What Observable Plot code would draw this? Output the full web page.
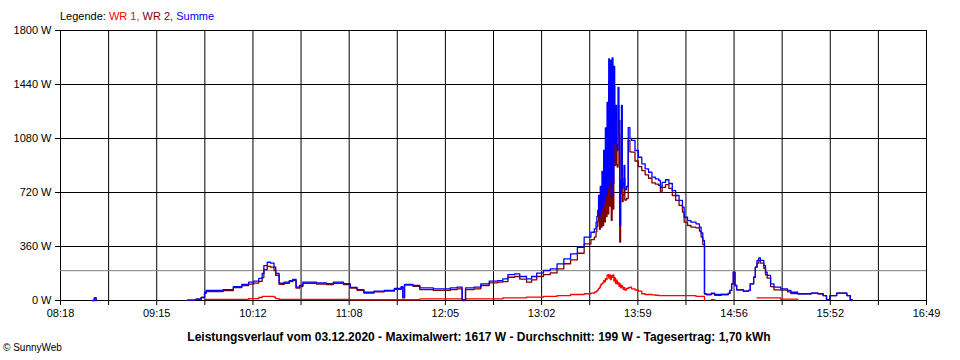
<!DOCTYPE html>
<html><head><meta charset="utf-8">
<script src="https://cdn.jsdelivr.net/npm/d3@7"></script>
<script src="https://cdn.jsdelivr.net/npm/@observablehq/plot@0.6"></script>
<style>
body{margin:0;background:#fff;font-family:"Liberation Sans",Arial,sans-serif;}
#wrap{position:relative;width:960px;height:360px;overflow:hidden;background:#fff}
#legend{position:absolute;left:60px;top:9px;font-size:11px;line-height:14px;white-space:nowrap}
#chart{position:absolute;left:0;top:24px}
#caption{position:absolute;left:0;width:958px;top:330px;text-align:center;font-weight:bold;font-size:12px;line-height:14px;white-space:nowrap}
#copy{position:absolute;left:3px;top:342px;font-size:10px;line-height:12px}
</style>
</head><body>
<div id="wrap">
<div id="legend"></div>
<div id="chart"></div>
<div id="caption"></div>
<div id="copy">© SunnyWeb</div>
</div>
<script>
// ---- data ----
const tickLabels = ["08:18","09:15","10:12","11:08","12:05","13:02","13:59","14:56","15:52","16:49"];
const yTicks = [0, 360, 720, 1080, 1440, 1800];
const seriesNames = ["WR 1", "WR 2", "Summe"];
const seriesColors = ["#ff0000", "#800000", "#0000ff"];
const dateLabel = "03.12.2020";
const maxValue = 1617;
const avgValue = 199;
const dayYield = "1,70";

const times = ["08:37","08:38","08:39","08:40",
"09:33","09:38","09:41","09:43","09:44","09:48","09:54","10:00","10:05","10:09","10:12","10:15","10:17","10:18","10:20","10:22","10:24","10:25","10:27","10:30","10:33","10:35","10:37","10:39","10:41","10:49","10:55","10:59","11:05","11:09","11:13","11:17","11:23","11:29","11:35","11:39","11:40","11:41","11:46","11:50","11:58","12:08","12:12","12:15","12:17","12:22","12:26","12:31","12:36","12:39","12:42","12:46","12:49","12:53","12:56","12:59","13:03","13:07","13:11","13:15","13:19","13:23","13:27","13:31","13:33","13:34",
"13:34:30","13:35","13:35:30","13:36","13:36:30","13:37","13:37:30","13:38","13:38:30","13:39","13:39:30","13:40","13:40:30","13:41","13:41:30","13:42","13:42:30","13:43","13:43:30","13:44","13:44:30","13:45","13:45:30","13:46","13:46:30","13:47","13:47:30","13:48","13:48:30","13:49","13:49:30","13:50","13:50:30","13:51","13:52",
"13:53","13:54","13:55","13:57","13:59","14:01","14:03","14:05","14:07","14:09","14:11","14:12","14:13","14:15","14:17","14:19","14:21","14:23","14:25","14:26","14:28","14:30","14:33","14:35","14:36","14:37","14:38","14:39","14:42","14:44","14:48","14:52","14:53","14:54","14:55","14:56","14:57","15:01","15:04","15:05","15:07","15:08","15:09","15:10","15:11","15:13","15:14","15:15","15:17","15:19","15:23","15:27","15:29","15:33","15:41","15:45","15:48","15:50","15:52","15:56","16:02","16:04","16:05"];

const summe = [0,18,0,null,
3,9,20,55,67,67,73,93,107,122,129,147,180,233,255,249,222,180,115,122,133,140,89,100,122,117,113,122,113,87,73,55,62,67,80,93,22,107,100,84,78,84,89,5,84,89,111,129,133,144,173,178,160,144,160,182,200,211,244,278,311,355,422,455,478,520,
560,600,700,560,760,600,860,620,1000,650,1150,700,1320,750,1611,800,1600,700,1617,780,1560,1050,1300,1040,1000,1420,1200,500,800,1300,750,780,900,740,760,
1153,1080,1067,1000,955,911,878,855,822,811,800,755,787,805,780,733,700,667,622,555,533,522,511,489,450,400,45,40,49,40,40,47,67,111,189,100,71,62,67,111,155,222,267,284,267,233,189,167,111,89,78,67,55,45,49,45,33,5,33,49,33,5,0];

const wr1 = [null,null,null,null,
null,null,null,7,7,7,7,7,7,13,13,20,27,27,27,27,22,13,7,7,7,7,7,7,7,7,7,7,7,5,5,5,5,5,5,5,5,5,5,11,11,11,11,5,11,11,11,11,11,18,18,18,18,22,22,22,27,27,33,33,40,40,45,49,55,60,
65,71,80,85,100,110,111,120,133,125,145,140,167,173,150,170,140,165,155,170,130,150,115,135,110,120,95,110,85,100,90,75,85,70,80,
85,89,78,70,62,45,40,40,38,35,33,33,33,33,33,33,33,33,33,33,33,33,27,27,27,27,0,null,5,5,null,null,null,null,null,null,null,null,null,null,null,null,18,18,18,18,18,18,18,18,9,9,9,0,null,null,null,null,null,null,null,null,null];

const wr2 = [0,18,0,null,
3,9,20,48,60,60,66,86,100,109,116,127,153,206,228,222,200,167,108,115,126,133,82,93,115,110,106,115,106,82,68,50,57,62,75,88,17,102,95,73,67,73,78,0,73,78,100,118,122,126,155,160,142,122,138,160,173,184,211,245,271,315,377,406,423,460,
495,529,620,475,660,490,749,500,867,525,1005,560,1153,577,1461,630,1460,535,1462,610,1430,900,1185,905,890,1300,1105,390,715,1200,660,705,815,670,680,
1068,991,989,930,893,866,838,815,784,776,767,722,754,772,747,700,667,634,589,522,500,489,484,462,423,373,45,40,44,35,40,47,67,111,189,100,71,62,67,111,155,222,249,266,249,215,171,149,93,71,69,58,46,45,49,45,33,5,33,49,33,5,0];

// ---- helpers ----
function toMin(s){ const p = s.split(":").map(Number); return p[0]*60 + p[1] + (p[2]||0)/60; }
const rows = times.map((t,i) => ({t: toMin(t), wr1: wr1[i], wr2: wr2[i], summe: summe[i]}));
const xMin = toMin(tickLabels[0]), xMax = toMin(tickLabels[tickLabels.length-1]);
const nTicks = (tickLabels.length - 1) * 2;
const step = (xMax - xMin) / nTicks;
const allTicks = d3.range(nTicks + 1).map(i => xMin + i * step);
const fmtX = d => { const i = Math.round((d - xMin) / step); return i % 2 === 0 ? tickLabels[i/2] : ""; };

// legend
document.getElementById("legend").innerHTML = 'Legende: ' +
  `<span style="color:${seriesColors[0]}">${seriesNames[0]}, </span>` +
  `<span style="color:${seriesColors[1]}">${seriesNames[1]}, </span>` +
  `<span style="color:${seriesColors[2]}">${seriesNames[2]}</span>`;

document.getElementById("caption").textContent =
  `Leistungsverlauf vom ${dateLabel} - Maximalwert: ${maxValue} W - Durchschnitt: ${avgValue} W - Tagesertrag: ${dayYield} kWh`;

const chart = Plot.plot({
  width: 960, height: 300,
  marginTop: 6, marginBottom: 24, marginLeft: 60, marginRight: 34,
  x: {domain: [xMin, xMax], label: null},
  y: {domain: [0, 1800], label: null},
  style: {fontFamily: '"Liberation Sans", Arial, sans-serif', fontSize: "11px", color: "black", background: "white", overflow: "visible"},
  marks: [
    Plot.gridX(allTicks, {stroke: "black", strokeOpacity: 1, strokeWidth: 1}),
    Plot.gridY(yTicks, {stroke: "black", strokeOpacity: 1, strokeWidth: 1}),
    Plot.ruleY([avgValue], {stroke: "#808080", strokeWidth: 1}),
    Plot.axisY(yTicks, {tickSize: 5, tickPadding: 4, tickFormat: d => d + " W", stroke: "black", label: null}),
    Plot.axisX(allTicks, {tickSize: 5, tickPadding: 4, tickFormat: fmtX, stroke: "black", label: null}),
    Plot.line(rows, {x: "t", y: "wr1", stroke: seriesColors[0], curve: "step-after", strokeWidth: 1.3}),
    Plot.line(rows, {x: "t", y: "wr2", stroke: seriesColors[1], curve: "step-after", strokeWidth: 1.3}),
    Plot.line(rows, {x: "t", y: "summe", stroke: seriesColors[2], curve: "step-after", strokeWidth: 1.3})
  ]
});
document.getElementById("chart").appendChild(chart);
</script>
</body></html>
